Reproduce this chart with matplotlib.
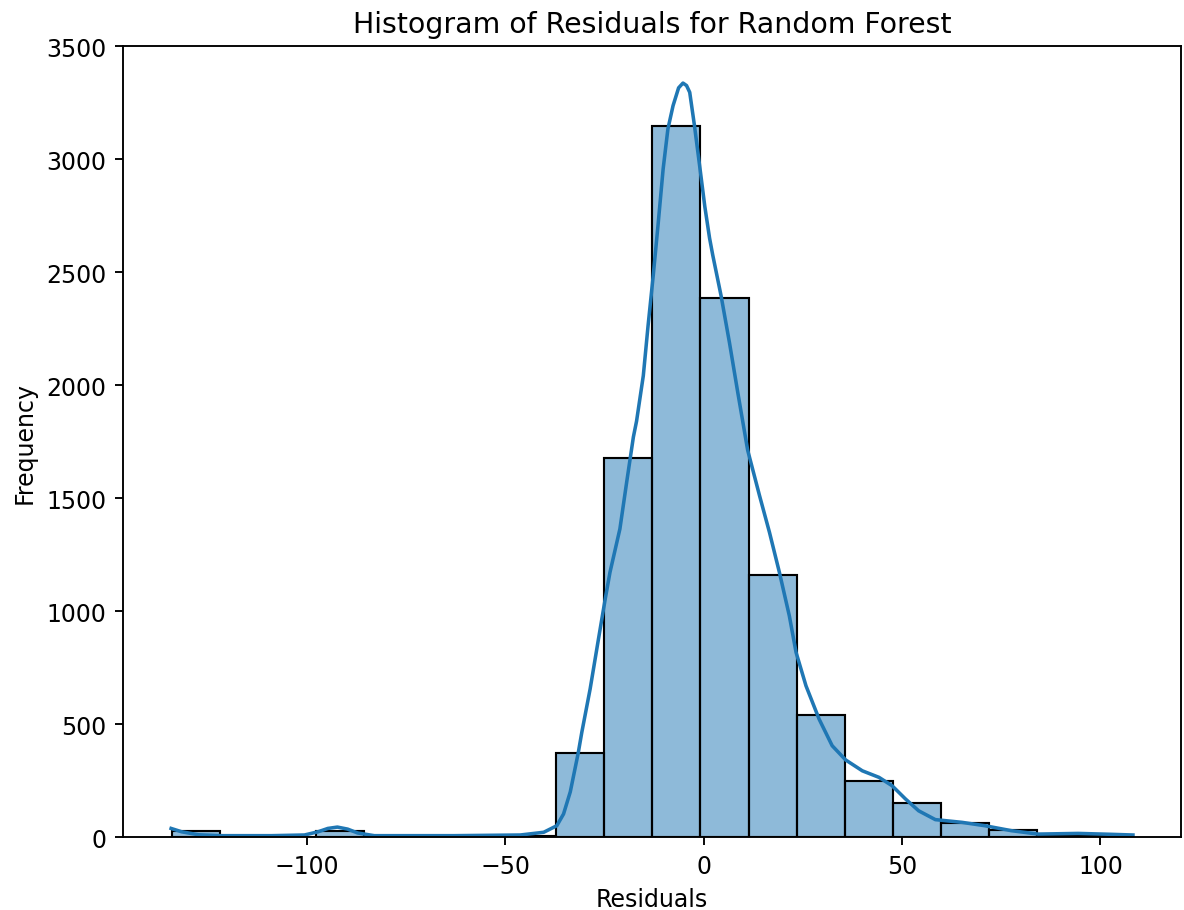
import numpy as np
import matplotlib
matplotlib.use("Agg")
import matplotlib.pyplot as plt

# histogram of residuals, 20 bins between min and max residual
res_min = -134.0
res_max = 108.2
counts = [25, 0, 0, 25, 0, 0, 0, 5, 370, 1675, 3145, 2385, 1160, 540, 250, 150, 62, 31, 5, 3]

# kde curve (scaled to counts)
kde_x = [-134.2, -131.5, -127.3, -121.5, -108.9, -100.6, -97.2, -94.7, -92.3, -89.7,
         -87.2, -83.0, -62.9, -46.2, -40.3, -37.0, -35.3, -33.6, -31.6, -30.7,
         -28.6, -26.5, -24.8, -23.6, -21.1, -19.4, -17.7, -16.9, -15.2, -14.0,
         -12.7, -11.5, -10.2, -9.0, -7.7, -6.3, -5.2, -4.3, -3.5, -2.3,
         -1.0, 0.3, 1.5, 2.3, 4.4, 6.5, 8.6, 11.1, 14.1, 16.6,
         19.1, 21.6, 23.3, 25.8, 29.1, 32.4, 35.8, 40.0, 44.2, 47.5,
         50.9, 54.2, 58.4, 65.1, 70.9, 77.6, 84.3, 94.4, 102.7, 108.2]
kde_y = [38, 23, 10, 6, 6, 9, 23, 38, 44, 35,
         18, 6, 6, 9, 21, 50, 102, 200, 372, 463,
         655, 876, 1053, 1171, 1363, 1569, 1770, 1840, 2041, 2262,
         2484, 2705, 2956, 3133, 3236, 3315, 3336, 3325, 3295, 3147,
         2970, 2790, 2650, 2575, 2395, 2189, 1968, 1712, 1510, 1348,
         1171, 979, 817, 669, 522, 404, 341, 293, 264, 227,
         168, 116, 77, 65, 50, 28, 13, 16, 12, 9]

edges = np.linspace(res_min, res_max, len(counts) + 1)

dpi = 170
fig = plt.figure(figsize=(1184 / dpi, 911 / dpi), dpi=dpi)
ax = fig.add_axes([0.1039, 0.0801, 0.8936, 0.8683])

ax.bar(edges[:-1], counts, width=np.diff(edges), align="edge",
       facecolor=(0.122, 0.467, 0.706, 0.5), edgecolor="black", linewidth=0.9)
ax.plot(kde_x, kde_y, color="#1f77b4", linewidth=1.5)

ax.set_ylim(0, 3500)
ax.set_title("Histogram of Residuals for Random Forest")
ax.set_xlabel("Residuals")
ax.set_ylabel("Frequency")

fig.savefig("out.png", dpi=dpi)
